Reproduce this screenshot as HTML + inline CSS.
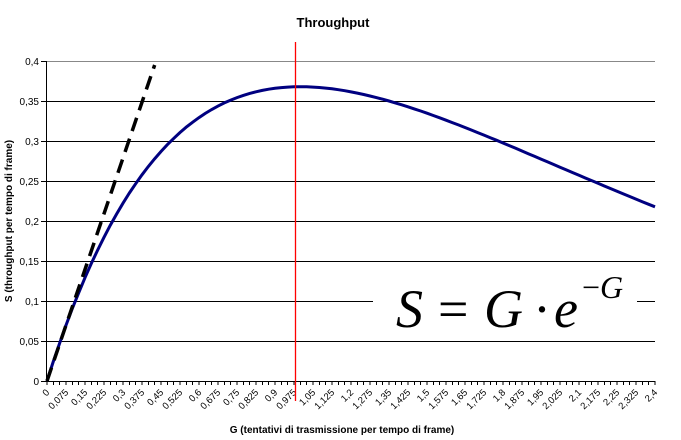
<!DOCTYPE html>
<html><head><meta charset="utf-8"><style>
html,body{margin:0;padding:0;background:#fff;}
svg{display:block;font-family:"Liberation Sans",Arial,sans-serif;}
#grid line,#yaxis line,#xaxis line{shape-rendering:crispEdges;}
</style></head><body>
<svg id="chart" width="681" height="440" viewBox="0 0 681 440">
<rect width="681" height="440" fill="#fff"/>
<text x="333" y="27" text-anchor="middle" font-size="13" font-weight="bold">Throughput</text>
<g id="grid"></g>
<g id="xaxis"></g>
<g id="yaxis"></g>
<g id="series"></g>
<text x="342" y="433" text-anchor="middle" font-size="10" font-weight="bold">G (tentativi di trasmissione per tempo di frame)</text>
<text transform="translate(12,221) rotate(-90)" text-anchor="middle" font-size="10" font-weight="bold">S (throughput per tempo di frame)</text>
</svg>
<script>
const yTicks = [0,0.05,0.1,0.15,0.2,0.25,0.3,0.35,0.4];
const yTickLabels = ["0","0,05","0,1","0,15","0,2","0,25","0,3","0,35","0,4"];
const gValues = [];
for (let i = 0; i <= 96; i++) gValues.push(+(i*0.025).toFixed(3));
const throughputValues = gValues.map(g => g*Math.exp(-g));
const dashedG = [0, 0.425];
const dashedS = [0, 0.395];
const peakG = 1;

const NS = "http://www.w3.org/2000/svg";
const L = 46, R = 655, T = 61, B = 381;
const nCat = gValues.length;
const cw = (R - L - 1) / (nCat - 1);
function xCat(i){ return L + 1 + i * cw; }
function xG(g){ return L + 1 + (g/0.025) * cw; }
function yS(s){ return B - (s/0.4) * (B - T); }
function mk(tag, attrs, parent){ const e=document.createElementNS(NS,tag); for(const k in attrs) e.setAttribute(k,attrs[k]); parent.appendChild(e); return e; }

const grid = document.getElementById('grid');
const yaxis = document.getElementById('yaxis');
yTicks.forEach((v,i)=>{
  const y = yS(v) + 0.5;
  if (v > 0) {
    if (Math.abs(v-0.1) < 1e-9) {
      const a = mk('line',{x1:L,x2:373,y1:y,y2:y,stroke:'#000','stroke-width':1},grid);
      
      
      const b = mk('line',{x1:637,x2:R,y1:y,y2:y,stroke:'#000','stroke-width':1},grid);
      
      
    } else {
      const g = mk('line',{x1:L,x2:R,y1:y,y2:y,stroke: v===0.4?'#888':'#000','stroke-width':1},grid);
      
      
    }
  }
  const t = mk('line',{x1:L-5,x2:L,y1:y,y2:y,stroke:'#000'},yaxis);
  
  
  const tx = mk('text',{x:L-7,y:y+3.5,'text-anchor':'end','font-size':10},yaxis);
  tx.textContent = yTickLabels[i];
  
  
});
const yl = mk('line',{x1:L+0.5,x2:L+0.5,y1:T,y2:B+1,stroke:'#000'},yaxis);



const xaxis = document.getElementById('xaxis');
const xl = mk('line',{x1:L,x2:R,y1:B+0.5,y2:B+0.5,stroke:'#000'},xaxis);


for (let i=0;i<nCat;i++){
  const x = xCat(i);
  const t = mk('line',{x1:x,x2:x,y1:B,y2:B+4,stroke:'#000'},xaxis);
  
  
}
gValues.forEach((g,i)=>{
  if (i%3!==0) return;
  const x = xCat(i);
  const tx = mk('text',{transform:`translate(${x+3},${B+12}) rotate(-45)`,'text-anchor':'end','font-size':9.5},xaxis);
  tx.textContent = String(g).replace('.',',');
  
  
});

const series = document.getElementById('series');
const pts = gValues.map((g,i)=>`${xCat(i).toFixed(1)},${yS(throughputValues[i]).toFixed(1)}`).join(' ');
const pl = mk('polyline',{points:pts,fill:'none',stroke:'#000080','stroke-width':3},series);


const dl = mk('line',{x1:xG(dashedG[0]),y1:yS(dashedS[0]),x2:xG(dashedG[1]),y2:yS(dashedS[1]),stroke:'#000','stroke-width':3.5,'stroke-dasharray':'14,8'},series);


const rx = Math.round(xG(peakG)-5) + 0.5;
const rl = mk('line',{x1:rx,x2:rx,y1:42,y2:401,stroke:'#ff0000','stroke-width':1.3},series);



const f = mk('text',{y:327,'font-family':'"Liberation Serif",serif','font-size':54,'font-style':'italic'},series);


f.innerHTML = '<tspan x="396">S</tspan><tspan x="438" font-style="normal">=</tspan><tspan x="484">G</tspan><tspan x="533" font-style="normal">·</tspan><tspan x="554">e</tspan><tspan x="582" y="298" font-size="32" font-style="normal">−</tspan><tspan x="600" y="298" font-size="32">G</tspan>';
</script>
</body></html>
